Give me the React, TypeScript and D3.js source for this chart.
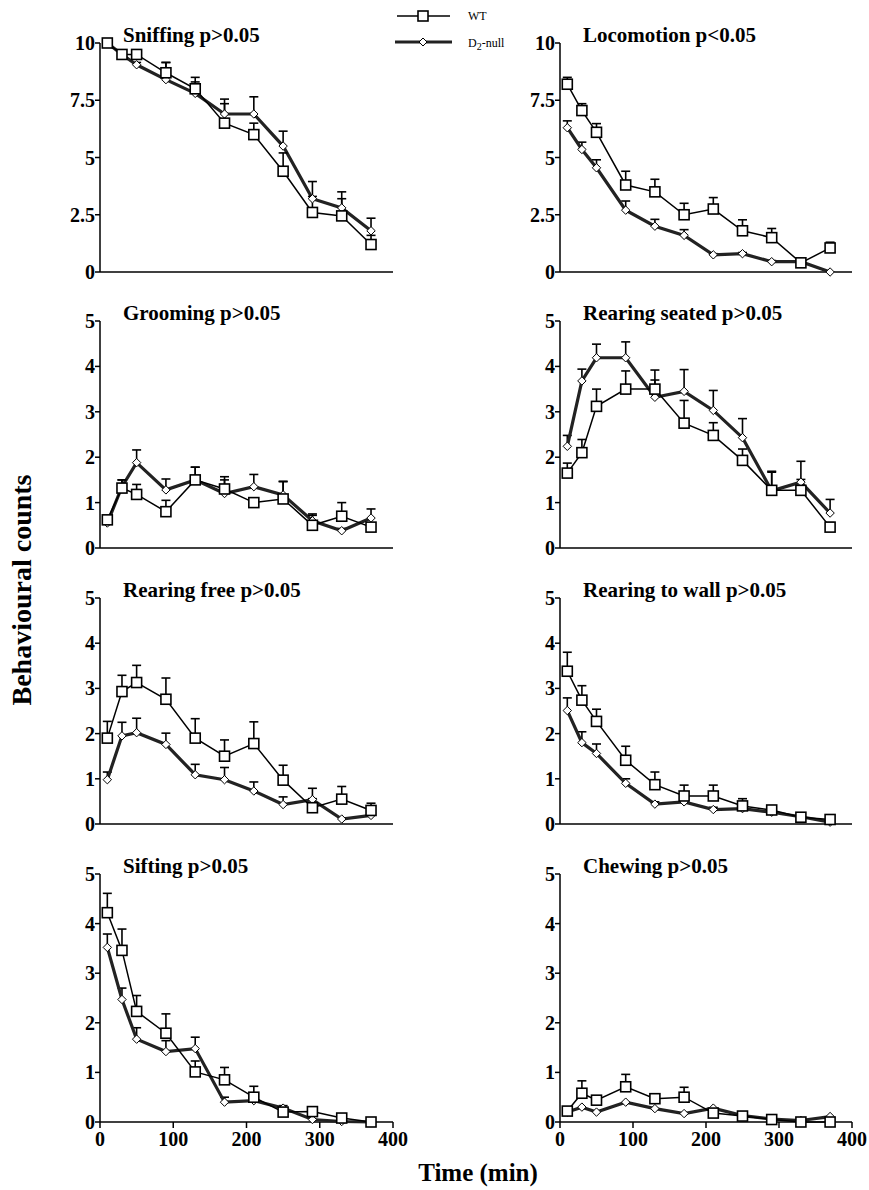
import React from "react";
import * as d3 from "d3";

// sampling times (min)
const times = [10, 30, 50, 90, 130, 170, 210, 250, 290, 330, 370];
const xTicks = [0, 100, 200, 300, 400];
const yTicksTen = [0, 2.5, 5, 7.5, 10];
const yTicksFive = [0, 1, 2, 3, 4, 5];

const titles = [
  "Sniffing p>0.05",
  "Locomotion p<0.05",
  "Grooming p>0.05",
  "Rearing seated p>0.05",
  "Rearing free p>0.05",
  "Rearing to wall p>0.05",
  "Sifting p>0.05",
  "Chewing p>0.05",
];

// WT means / SEM and D2-null means / SEM, one pair of arrays per panel
const sniffWT = [10.0, 9.5, 9.5, 8.7, 8.0, 6.5, 6.0, 4.4, 2.6, 2.45, 1.2];
const sniffWTErr = [0.05, 0.1, 0.1, 0.45, 0.5, 0.85, 0.5, 0.8, 0.7, 0.75, 0.4];
const sniffD2 = [10.0, 9.5, 9.05, 8.4, 7.8, 6.9, 6.9, 5.5, 3.2, 2.8, 1.8];
const sniffD2Err = [0.05, 0.1, 0.1, 0.75, 0.5, 0.65, 0.75, 0.65, 0.75, 0.7, 0.55];

const locoWT = [8.2, 7.05, 6.1, 3.8, 3.5, 2.5, 2.75, 1.8, 1.5, 0.4, 1.05];
const locoWTErr = [0.3, 0.3, 0.38, 0.6, 0.55, 0.5, 0.5, 0.48, 0.4, 0.1, 0.25];
const locoD2 = [6.3, 5.35, 4.55, 2.7, 2.0, 1.6, 0.75, 0.8, 0.45, 0.45, 0.0];
const locoD2Err = [0.3, 0.32, 0.35, 0.4, 0.3, 0.25, 0.05, 0.05, 0.05, 0.1, 0.02];

const groomWT = [0.62, 1.32, 1.18, 0.8, 1.5, 1.3, 1.0, 1.08, 0.5, 0.7, 0.46];
const groomWTErr = [0.05, 0.18, 0.22, 0.25, 0.28, 0.27, 0.1, 0.38, 0.22, 0.3, 0.05];
const groomD2 = [0.55, 1.35, 1.88, 1.28, 1.5, 1.2, 1.35, 1.17, 0.6, 0.38, 0.66];
const groomD2Err = [0.05, 0.15, 0.28, 0.24, 0.28, 0.3, 0.27, 0.3, 0.15, 0.05, 0.2];

const seatWT = [1.65, 2.1, 3.12, 3.5, 3.5, 2.75, 2.48, 1.93, 1.27, 1.27, 0.46];
const seatWTErr = [0.22, 0.29, 0.38, 0.4, 0.2, 0.5, 0.28, 0.25, 0.4, 0.24, 0.1];
const seatD2 = [2.24, 3.68, 4.19, 4.19, 3.32, 3.45, 3.03, 2.43, 1.26, 1.45, 0.77];
const seatD2Err = [0.24, 0.26, 0.3, 0.35, 0.6, 0.48, 0.44, 0.42, 0.43, 0.46, 0.3];

const freeWT = [1.9, 2.93, 3.13, 2.76, 1.9, 1.5, 1.78, 0.97, 0.36, 0.55, 0.3];
const freeWTErr = [0.37, 0.36, 0.38, 0.47, 0.43, 0.36, 0.48, 0.33, 0.2, 0.28, 0.16];
const freeD2 = [0.98, 1.95, 2.02, 1.76, 1.09, 0.98, 0.73, 0.43, 0.54, 0.11, 0.19];
const freeD2Err = [0.17, 0.3, 0.32, 0.25, 0.23, 0.27, 0.2, 0.17, 0.25, 0.03, 0.03];

const wallWT = [3.38, 2.74, 2.27, 1.41, 0.87, 0.62, 0.62, 0.4, 0.31, 0.15, 0.1];
const wallWTErr = [0.42, 0.32, 0.27, 0.31, 0.28, 0.24, 0.24, 0.16, 0.05, 0.05, 0.03];
const wallD2 = [2.51, 1.8, 1.56, 0.9, 0.44, 0.49, 0.32, 0.34, 0.26, 0.16, 0.04];
const wallD2Err = [0.28, 0.24, 0.21, 0.1, 0.05, 0.05, 0.05, 0.05, 0.03, 0.03, 0.02];

const siftWT = [4.22, 3.46, 2.23, 1.79, 1.01, 0.85, 0.5, 0.2, 0.21, 0.08, 0.0];
const siftWTErr = [0.39, 0.43, 0.32, 0.39, 0.22, 0.25, 0.22, 0.05, 0.05, 0.03, 0.02];
const siftD2 = [3.52, 2.47, 1.67, 1.42, 1.48, 0.4, 0.43, 0.28, 0.05, 0.01, 0.0];
const siftD2Err = [0.27, 0.23, 0.23, 0.22, 0.23, 0.1, 0.05, 0.05, 0.02, 0.01, 0.01];

const chewWT = [0.22, 0.58, 0.44, 0.71, 0.47, 0.5, 0.18, 0.12, 0.05, 0.0, 0.0];
const chewWTErr = [0.03, 0.25, 0.05, 0.25, 0.05, 0.2, 0.03, 0.03, 0.02, 0.02, 0.02];
const chewD2 = [0.2, 0.3, 0.2, 0.4, 0.27, 0.17, 0.28, 0.13, 0.06, 0.03, 0.11];
const chewD2Err = [0.02, 0.03, 0.03, 0.04, 0.03, 0.03, 0.03, 0.02, 0.02, 0.02, 0.02];

const panelData = [
  [sniffWT, sniffWTErr, sniffD2, sniffD2Err],
  [locoWT, locoWTErr, locoD2, locoD2Err],
  [groomWT, groomWTErr, groomD2, groomD2Err],
  [seatWT, seatWTErr, seatD2, seatD2Err],
  [freeWT, freeWTErr, freeD2, freeD2Err],
  [wallWT, wallWTErr, wallD2, wallD2Err],
  [siftWT, siftWTErr, siftD2, siftD2Err],
  [chewWT, chewWTErr, chewD2, chewD2Err],
];

const W = 869;
const H = 1190;
const FONT = "'Liberation Serif', 'Times New Roman', serif";

// layout of the grid
const cols = [
  { x0: 100, x1: 393 },
  { x0: 560, x1: 852 },
];
const rows = [
  { top: 43, bottom: 272 },
  { top: 321, bottom: 548 },
  { top: 598, bottom: 824 },
  { top: 874, bottom: 1122 },
];

const diamond = (x: number, y: number, r: number) =>
  `M${x},${y - r}L${x + r},${y}L${x},${y + r}L${x - r},${y}Z`;

function Panel({ idx }: { idx: number }) {
  const col = cols[idx % 2];
  const row = rows[Math.floor(idx / 2)];
  const isTen = idx < 2;
  const yTicks = isTen ? yTicksTen : yTicksFive;
  const x = d3.scaleLinear().domain([0, 400]).range([col.x0, col.x1]);
  const y = d3
    .scaleLinear()
    .domain([0, isTen ? 10 : 5])
    .range([row.bottom, row.top]);
  const [wt, wtErr, d2, d2Err] = panelData[idx];
  const line = d3
    .line<number>()
    .x((_, i) => x(times[i]))
    .y((d) => y(d));
  const showX = idx >= 6;

  const errBars = (vals: number[], errs: number[], sw: number) =>
    vals.map((v, i) =>
      errs[i] > 0.04 ? (
        <g key={i} stroke="#000" strokeWidth={sw}>
          <line x1={x(times[i])} x2={x(times[i])} y1={y(v)} y2={y(v + errs[i])} />
          <line x1={x(times[i]) - 4.5} x2={x(times[i]) + 4.5} y1={y(v + errs[i])} y2={y(v + errs[i])} />
        </g>
      ) : null
    );

  return (
    <g>
      <text
        x={col.x0 + 23}
        y={row.top - 1}
        fontFamily={FONT}
        fontWeight="bold"
        fontSize={21}
      >
        {titles[idx]}
      </text>
      {/* axes */}
      <line x1={col.x0} x2={col.x0} y1={row.top} y2={row.bottom} stroke="#000" strokeWidth={1.5} />
      <line x1={col.x0} x2={col.x1} y1={row.bottom} y2={row.bottom} stroke="#000" strokeWidth={1.5} />
      {yTicks.map((t) => (
        <g key={t}>
          <line x1={col.x0 - 5} x2={col.x0} y1={y(t)} y2={y(t)} stroke="#000" strokeWidth={1.5} />
          <text
            x={col.x0 - 5}
            y={y(t)}
            dy="0.35em"
            textAnchor="end"
            fontFamily={FONT}
            fontWeight="bold"
            fontSize={20}
          >
            {t}
          </text>
        </g>
      ))}
      {showX &&
        xTicks.map((t) => (
          <g key={t}>
            <line x1={x(t)} x2={x(t)} y1={row.bottom} y2={row.bottom + 6} stroke="#000" strokeWidth={1.5} />
            <text
              x={x(t)}
              y={row.bottom + 24}
              textAnchor="middle"
              fontFamily={FONT}
              fontWeight="bold"
              fontSize={20}
            >
              {t}
            </text>
          </g>
        ))}
      {/* D2-null series */}
      {errBars(d2, d2Err, 1.6)}
      <path d={line(d2) || ""} fill="none" stroke="#222" strokeWidth={3.2} />
      {/* WT series */}
      {errBars(wt, wtErr, 1.6)}
      <path d={line(wt) || ""} fill="none" stroke="#000" strokeWidth={1.5} />
      {d2.map((v, i) => (
        <path key={"d" + i} d={diamond(x(times[i]), y(v), 4.2)} fill="#fff" stroke="#000" strokeWidth={1} />
      ))}
      {wt.map((v, i) => (
        <rect
          key={"w" + i}
          x={x(times[i]) - 5}
          y={y(v) - 5}
          width={10}
          height={10}
          fill="#fff"
          stroke="#000"
          strokeWidth={1.6}
        />
      ))}
    </g>
  );
}

export default function App() {
  return (
    <svg
      width={W}
      height={H}
      style={{ position: "absolute", left: 0, top: 0, background: "#fff" }}
    >
      <rect width={W} height={H} fill="#fff" />
      {titles.map((_, i) => (
        <Panel key={i} idx={i} />
      ))}
      {/* legend */}
      <g>
        <line x1={397} x2={450} y1={16} y2={16} stroke="#000" strokeWidth={1.5} />
        <rect x={418} y={11} width={10} height={10} fill="#fff" stroke="#000" strokeWidth={1.6} />
        <text x={468} y={20} fontFamily={FONT} fontSize={12}>
          WT
        </text>
        <line x1={395} x2={452} y1={42} y2={42} stroke="#222" strokeWidth={3.2} />
        <path d={diamond(423, 42, 4)} fill="#fff" stroke="#000" strokeWidth={1} />
        <text x={468} y={47} fontFamily={FONT} fontSize={12}>
          D<tspan dy={3} fontSize={10}>2</tspan>
          <tspan dy={-3}>-null</tspan>
        </text>
      </g>
      <text
        transform={`translate(31, 590) rotate(-90)`}
        textAnchor="middle"
        fontFamily={FONT}
        fontWeight="bold"
        fontSize={28}
      >
        Behavioural counts
      </text>
      <text
        x={478}
        y={1181}
        textAnchor="middle"
        fontFamily={FONT}
        fontWeight="bold"
        fontSize={25}
      >
        Time (min)
      </text>
    </svg>
  );
}
